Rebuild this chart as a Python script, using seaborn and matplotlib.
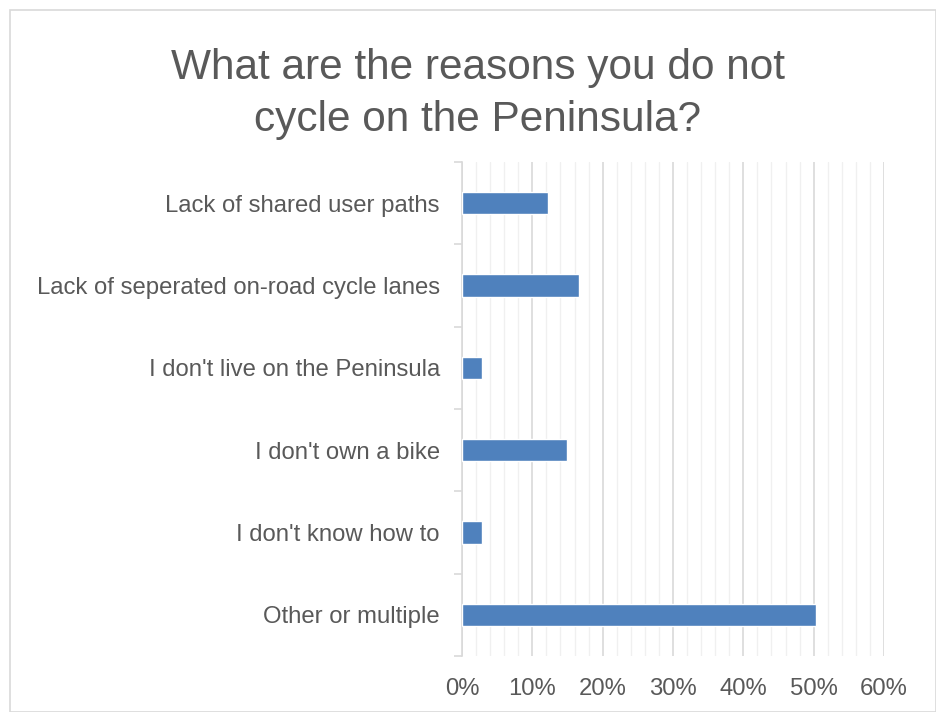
import matplotlib
matplotlib.use("Agg")
import matplotlib.pyplot as plt
from matplotlib.patches import Rectangle
from matplotlib.ticker import MultipleLocator, FixedLocator, PercentFormatter
import seaborn as sns
import pandas as pd

reasons = [
    "Lack of shared user paths",
    "Lack of seperated on-road cycle lanes",
    "I don't live on the Peninsula",
    "I don't own a bike",
    "I don't know how to",
    "Other or multiple",
]
shares = [12.2, 16.6, 2.8, 15.0, 2.8, 50.4]

title = "What are the reasons you do not\ncycle on the Peninsula?"

sns.set_theme(style="white")
plt.rcParams["font.family"] = ["Liberation Sans", "DejaVu Sans"]

text_color = "#595959"
bar_color = "#4f81bd"

df = pd.DataFrame({"reason": reasons, "share": shares})

fig = plt.figure(figsize=(9.37, 7.12), dpi=100)
fig.patch.set_facecolor("white")

# chart frame
fig.patches.append(Rectangle((10 / 937, 0), 926 / 937, 702 / 712,
                             transform=fig.transFigure, fill=False,
                             edgecolor="#d9d9d9", linewidth=1.2))

ax = fig.add_axes([462 / 937, 56 / 712, 422 / 937, 494 / 712])
sns.barplot(data=df, x="share", y="reason", orient="h", color=bar_color,
            width=0.27, saturation=1, ax=ax, zorder=3)

ax.set_xlim(0, 60)
ax.set_ylim(5.5, -0.5)
ax.xaxis.set_major_locator(MultipleLocator(10))
ax.xaxis.set_minor_locator(MultipleLocator(2))
ax.xaxis.set_major_formatter(PercentFormatter(decimals=0))
ax.grid(axis="x", which="major", color="#d9d9d9", linewidth=1.2, zorder=0)
ax.grid(axis="x", which="minor", color="#f0f0f0", linewidth=1.0, zorder=0)
ax.set_axisbelow(True)

# category boundary ticks on the y axis
ax.yaxis.set_minor_locator(FixedLocator([i - 0.5 for i in range(len(reasons) + 1)]))
ax.tick_params(axis="y", which="major", length=0, pad=16, labelsize=17.2,
               labelcolor=text_color)
ax.tick_params(axis="y", which="minor", length=6, width=1.2, color="#d9d9d9",
               left=True)
ax.tick_params(axis="x", which="both", length=0, pad=16, labelsize=17.2,
               labelcolor=text_color)

for side in ["top", "right", "bottom"]:
    ax.spines[side].set_visible(False)
ax.spines["left"].set_color("#d9d9d9")
ax.spines["left"].set_linewidth(1.2)

ax.set_xlabel("")
ax.set_ylabel("")

fig.text(478 / 937, 1 - 94 / 712, title, ha="center", va="center",
         fontsize=30.5, color=text_color, linespacing=1.38)

fig.savefig("out.png", dpi=100, facecolor="white")
